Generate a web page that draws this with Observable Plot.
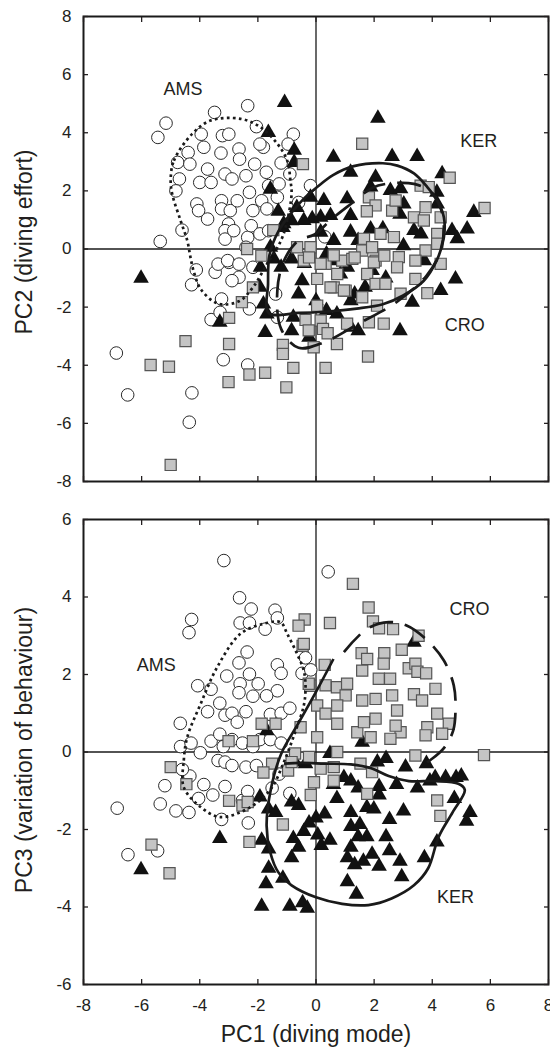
<!DOCTYPE html>
<html><head><meta charset="utf-8">
<script src="https://cdn.jsdelivr.net/npm/d3@7"></script>
<script src="https://cdn.jsdelivr.net/npm/@observablehq/plot@0.6"></script>
<style>
html,body{margin:0;padding:0;background:#fff;}
#chart svg{display:block;}
</style></head><body><div id="chart"></div>
<script>
const xTicks = [-8,-6,-4,-2,0,2,4,6,8];
const yTicksTop = [-8,-6,-4,-2,0,2,4,6,8];
const yTicksBottom = [-6,-4,-2,0,2,4,6];
const xTitle = "PC1 (diving mode)";
const yTitleTop = "PC2 (diving effort)";
const yTitleBottom = "PC3 (variation of behaviour)";

// ---- Top panel: PC1 vs PC2 ----
const amsTop = [[-6.87,-3.58],[-6.48,-5.02],[-4.36,-5.96],[-4.27,-4.95],[-3.19,-3.81],[-2.35,-3.99],[-3.61,-2.43],[-3.3,-2.18],[-3.25,-1.72],[-4.28,-1.23],[-4.12,-0.72],[-3.47,-0.8],[-3.0,-0.46],[-5.36,0.26],[-4.61,0.65],[-5.44,3.84],[-5.16,4.33],[-3.49,4.7],[-2.35,4.93],[-2.05,4.21],[-0.78,3.95],[-0.96,3.61],[-1.2,2.96],[-0.9,2.58],[-0.19,2.18],[-0.6,1.6],[-4.7,2.41],[-4.82,2.0],[-4.76,2.98],[-4.4,3.32],[-4.34,2.92],[-4.0,2.29],[-3.95,3.95],[-3.86,3.5],[-3.73,2.75],[-3.61,2.29],[-4.1,1.55],[-4.04,1.32],[-3.73,1.03],[-3.27,3.3],[-3.22,3.9],[-3.0,3.95],[-3.13,2.58],[-2.89,2.41],[-2.65,3.44],[-2.63,3.09],[-2.41,2.52],[-2.29,1.95],[-2.11,2.92],[-1.81,3.5],[-1.93,3.61],[-1.71,2.64],[-1.63,2.18],[-1.33,1.78],[-1.27,2.24],[-1.87,1.66],[-1.69,1.38],[-2.17,1.32],[-3.25,1.66],[-3.25,1.38],[-2.95,1.32],[-2.71,1.66],[-3.01,0.86],[-3.13,0.63],[-3.13,0.34],[-2.83,0.63],[-2.35,0.4],[-2.23,0.8],[-1.93,0.52],[-1.63,0.63],[-2.41,0.06],[-3.37,-0.52],[-3.04,-0.4],[-2.65,-0.52],[-2.65,-0.97],[-2.89,-1.09],[-2.17,-0.63],[-2.29,-2.06],[-1.33,-2.35],[-1.39,-1.55],[0.3,0.42]];
const kerTop = [[-1.08,5.04],[2.13,4.5],[-1.64,4.01],[-0.75,3.4],[-0.75,2.98],[-6.02,-1.01],[-3.31,-2.52],[0.6,3.16],[1.19,2.64],[2.62,3.18],[3.48,3.18],[2.05,2.47],[1.88,2.13],[2.56,2.01],[2.91,2.07],[4.34,2.59],[4.16,1.95],[3.02,1.55],[4.17,1.55],[5.43,1.26],[5.2,0.69],[4.68,0.64],[4.86,0.35],[4.8,-1.03],[4.29,-1.43],[3.31,-1.83],[2.89,-2.81],[3.73,-0.4],[3.37,0.64],[2.89,1.2],[-1.57,2.06],[-0.19,1.78],[0.27,1.67],[1.07,1.73],[-0.13,1.04],[0.16,1.09],[0.5,1.15],[1.19,1.15],[-0.66,1.43],[-1.14,0.74],[-0.84,0.97],[0.16,0.58],[0.61,0.29],[1.19,0.58],[1.88,0.69],[1.45,0.29],[-1.57,0.06],[-1.45,-0.34],[-1.2,-0.63],[-0.84,-0.34],[-1.91,-0.63],[-1.93,-1.32],[-1.81,-1.89],[-1.69,-2.24],[-0.48,-1.09],[-0.6,-1.55],[-0.78,-2.35],[-0.84,-2.81],[-1.75,-2.87],[0,-1.78],[0.36,-2.12],[0.72,-2.24],[1.2,-1.78],[1.33,-1.55],[1.2,-2.69],[1.45,-2.81],[1.69,-1.32],[1.93,-0.74],[0.84,-0.86],[0.6,-0.4],[0.36,-0.17],[1.08,-0.63],[3.01,0.11],[3.61,0.52],[-0.24,-3.04],[2.4,-1.0],[-0.42,0.98],[2.3,0.7],[-1.3,1.3],[-0.4,-0.5],[-1.11,0.87]];
const croTop = [[-5.0,-7.43],[-5.69,-3.99],[-5.06,-4.05],[-4.49,-3.17],[-3.01,-4.58],[-2.99,-3.27],[-2.99,-2.37],[-2.55,-1.83],[-2.29,-4.32],[-1.75,-4.26],[-1.02,-4.76],[-0.78,-4.09],[0.33,-4.09],[1.79,-3.7],[1.59,3.62],[-0.45,2.92],[4.6,2.45],[5.8,1.41],[-1.47,0.65],[-2.37,0.0],[-1.88,-0.23],[-2.17,-1.32],[-1.14,-3.3],[-1.14,-3.61],[-0.08,-3.38],[0.72,-3.27],[1.07,-2.57],[1.82,-2.52],[2.33,-2.57],[-0.36,-2.44],[-0.25,-2.8],[0.16,-2.46],[0.24,-2.75],[0.04,-1.95],[0.4,-2.9],[1.82,1.78],[2.05,1.5],[1.75,1.3],[2.62,1.32],[2.74,1.67],[3.6,2.18],[3.88,2.13],[3.37,1.09],[3.77,1.44],[3.71,0.98],[4.29,1.09],[4.17,0.52],[4.17,0.18],[3.77,-0.05],[4.29,-0.51],[3.42,-0.4],[3.83,-1.52],[3.42,-1.03],[2.22,0.52],[2.68,0.41],[1.65,0.35],[1.59,-0.05],[2.05,-0.4],[2.85,-0.28],[2.79,-0.63],[1.76,-0.86],[2.05,-1.2],[2.39,-1.2],[2.91,-1.54],[0.9,-0.4],[1.25,-0.34],[0.73,-0.86],[0.61,-1.32],[1.02,-1.43],[0.33,-0.51],[-0.19,0.06],[-0.42,-0.4],[0.04,-1.03],[0.16,-0.51],[2.1,-1.95],[1.59,-1.66],[-0.65,0.06],[-0.24,-0.29],[1.33,-0.29],[1.99,-0.46],[2.35,-0.23],[1.93,0.06],[0.61,-0.22],[0.5,-1.32],[0.96,-1.43]];
const amsContourTop = [[-5.0,2.4],[-4.89,3.04],[-4.26,3.96],[-3.63,4.42],[-2.6,4.48],[-1.91,4.19],[-1.33,3.62],[-0.99,3.04],[-0.88,2.36],[-0.84,1.9],[-0.99,0.98],[-1.2,0.3],[-1.69,-0.52],[-2.17,-1.32],[-2.65,-1.8],[-3.37,-1.88],[-3.95,-1.4],[-4.2,-0.8],[-4.32,-0.28],[-4.43,0.29],[-4.66,0.98],[-4.95,1.9]];
const kerContourTop = [[-1.63,-2.2],[-1.65,-1.2],[-1.6,-0.2],[-1.3,0.6],[-0.8,1.3],[-0.4,1.75],[0.0,2.1],[0.6,2.55],[1.3,2.85],[2.3,2.95],[2.8,2.87],[3.37,2.6],[3.83,2.13],[4.17,1.67],[4.4,1.09],[4.4,0.4],[4.15,-0.4],[3.7,-1.1],[3.0,-1.6],[2.3,-1.9],[1.4,-2.05],[0.4,-2.15],[-0.6,-2.2]];
const croContourTop = [[-1.2,-2.75],[-0.6,-3.4],[0.3,-3.2],[1.5,-2.55],[2.77,-1.83],[3.8,-0.92],[4.25,-0.15],[4.4,0.74],[4.25,1.5],[3.9,2.0],[3.37,2.24],[2.41,2.24],[1.93,2.1],[1.2,1.55],[0.54,1.03],[-0.05,0.5],[-0.6,0.3],[-1.1,-0.4],[-1.33,-1.43]];
const labelsTop = [{t:"AMS",x:-4.58,y:5.5},{t:"KER",x:5.6,y:3.72},{t:"CRO",x:5.12,y:-2.64}];

// ---- Bottom panel: PC1 vs PC3 ----
const amsBottom = [[-3.17,4.94],[0.42,4.65],[-2.63,3.98],[-2.23,3.69],[-1.41,3.66],[-1.33,3.46],[-2.61,3.33],[-2.29,3.33],[-1.75,3.17],[-4.28,3.42],[-4.37,3.08],[-2.37,2.58],[-2.65,2.3],[-3.07,1.96],[-2.29,2.01],[-1.99,1.76],[-2.61,1.76],[-1.33,2.25],[-1.2,2.03],[-1.33,1.58],[-2.17,1.44],[-1.7,1.45],[-2.65,1.53],[-4.07,1.71],[-3.61,1.62],[-3.31,1.26],[-3.73,1.04],[-3.13,0.95],[-2.89,1.0],[-2.41,1.04],[-2.71,0.77],[-1.57,0.97],[-1.2,1.0],[-0.9,1.13],[-0.36,2.43],[-0.48,2.03],[-0.18,2.12],[-4.67,0.74],[-4.66,0.14],[-4.3,0.23],[-3.98,-0.02],[-3.61,0.28],[-3.31,0.46],[-3.19,0.14],[-2.89,0.32],[-2.53,0.23],[-2.17,0.14],[-1.93,0.32],[-1.57,0.32],[-1.2,0.23],[-3.37,-0.22],[-3.13,-0.26],[-2.89,-0.35],[-2.41,-0.39],[-2.05,-0.35],[-4.34,-0.62],[-4.6,-0.45],[-5.2,-0.87],[-5.36,-1.34],[-4.82,-1.52],[-4.37,-1.56],[-4.04,-1.2],[-3.55,-1.11],[-3.86,-0.84],[-3.13,-0.89],[-3.25,-1.74],[-2.33,-1.83],[-2.53,-1.25],[-2.35,-1.02],[-1.51,-0.93],[-1.27,-0.57],[-0.9,-1.07],[-6.84,-1.45],[-6.47,-2.65],[-5.45,-2.55]];
const kerBottom = [[-6.02,-3.04],[-3.31,-2.23],[-1.87,-2.28],[-1.63,-2.5],[-1.63,-3.0],[-1.72,-3.4],[-1.87,-3.98],[-1.14,-3.26],[-0.9,-3.98],[-0.46,-3.89],[-0.3,-4.03],[-1.69,0.55],[-1.93,-1.16],[-1.63,-1.47],[-1.39,-1.56],[-0.84,-1.29],[-0.6,-1.38],[-0.78,-2.23],[-0.6,-2.46],[-0.84,-2.73],[-0.42,-2.05],[0,-1.7],[0.06,-2.14],[0.18,-2.41],[0.48,-2.28],[0.72,-1.2],[1.2,-0.75],[1.2,-1.56],[1.2,-1.92],[1.45,-2.19],[1.2,-2.46],[1.08,-2.73],[1.33,-2.91],[1.63,-2.82],[1.93,-2.64],[1.75,-2.19],[1.51,-1.87],[1.75,-1.43],[1.99,-1.47],[2.17,-0.89],[2.17,-1.11],[2.77,-0.84],[3.49,-0.93],[2.41,-2.19],[2.53,-2.55],[2.17,-2.95],[2.89,-2.82],[2.95,-3.22],[3.01,-1.52],[2.53,-1.74],[3.73,-2.73],[4.16,-2.32],[4.76,-1.2],[5.3,-1.56],[5.18,-1.79],[4.1,-0.66],[4.46,-0.66],[4.82,-0.66],[5.0,-0.62],[3.92,-0.75],[3.8,-0.3],[3.08,-0.39],[2.41,-0.17],[2.11,-0.26],[3.37,2.83],[1.08,-3.35],[1.39,-3.67],[-0.36,-0.3],[0.48,-0.04],[-0.72,-0.26],[0.96,-0.66],[1.45,-0.93],[0.6,-0.84],[0.3,-1.6],[-0.24,-1.83],[1.59,0.25]];
const croBottom = [[1.27,4.34],[1.81,3.73],[0.48,3.33],[-0.39,3.42],[-0.6,3.26],[-0.46,2.74],[1.96,3.37],[2.17,3.19],[2.65,3.17],[3.53,3.0],[2.95,2.64],[1.57,2.55],[2.35,2.55],[1.76,2.4],[2.33,2.28],[1.59,2.1],[0.3,2.25],[-0.2,1.71],[0.33,1.72],[0.72,1.67],[1.07,1.76],[1.02,1.46],[2.16,1.89],[2.55,1.89],[3.19,2.16],[3.42,2.28],[3.49,2.07],[3.79,2.03],[4.11,1.63],[3.37,1.49],[3.65,1.33],[4.17,0.99],[4.57,0.73],[4.34,0.47],[3.83,0.64],[3.77,0.43],[2.79,1.07],[2.91,0.51],[2.56,0.34],[1.88,0.38],[1.42,0.51],[1.65,0.77],[2.05,0.86],[2.74,0.68],[2.05,1.37],[2.62,1.46],[1.59,1.33],[0.73,1.2],[0.04,1.2],[0.33,0.99],[0.73,0.73],[-0.53,0.64],[0.04,0.38],[0.73,0.0],[-0.24,-0.13],[0.16,-0.43],[0.61,-0.39],[-0.07,-0.78],[0.61,-0.74],[-0.72,-0.04],[3.42,-0.09],[1.53,-0.3],[1.93,-0.52],[1.76,-1.08],[4.17,-1.25],[4.28,-1.65],[5.78,-0.08],[-0.18,-1.11],[-0.96,-0.48],[-1.51,-0.3],[-1.81,-0.53],[-1.87,0.73],[-1.39,0.73],[-2.17,0.28],[-3.01,0.28],[-2.99,-1.26],[-2.53,-1.38],[-2.35,-1.29],[-1.14,-1.87],[-2.29,-2.32],[-5.0,-0.39],[-4.46,-0.83],[-5.66,-2.39],[-5.04,-3.13],[-0.84,-0.26],[-0.42,2.79],[-0.25,1.76]];
const amsContourBottom = [[-4.55,-0.91],[-4.55,-0.22],[-4.43,0.38],[-3.97,1.24],[-3.4,2.19],[-2.6,3.05],[-1.8,3.31],[-1.22,3.35],[-0.99,3.05],[-0.65,2.53],[-0.42,2.1],[-0.36,1.67],[-0.42,1.2],[-0.7,0.55],[-1.1,-0.25],[-1.55,-0.95],[-2.25,-1.42],[-3.29,-1.68],[-3.97,-1.42]];
const kerContourBottom = [[0.6,2.4],[0.0,1.55],[-0.6,0.75],[-1.2,-0.05],[-1.55,-0.95],[-1.7,-1.9],[-1.57,-2.6],[-1.3,-3.1],[-0.84,-3.44],[0,-3.75],[0.9,-3.92],[1.8,-3.95],[2.6,-3.78],[3.37,-3.44],[3.86,-3.0],[4.22,-2.19],[4.7,-1.56],[5.12,-0.98],[4.9,-0.82],[4.1,-0.75],[3.2,-0.75],[2.5,-0.62],[1.9,-0.42],[1.2,-0.32],[0.3,-0.3],[-0.5,-0.28],[-1.1,-0.3]];
const croContourBottom = [[0.96,2.58],[1.76,3.18],[2.5,3.35],[3.1,3.27],[3.83,2.88],[4.4,2.36],[4.74,1.72],[4.8,1.1],[4.72,0.55],[4.4,0.1],[3.95,-0.2],[3.5,-0.42]];
const labelsBottom = [{t:"AMS",x:-5.5,y:2.25},{t:"CRO",x:5.28,y:3.69},{t:"KER",x:4.8,y:-3.76}];

const FONT = "'Liberation Sans', Arial, Helvetica, sans-serif";
const INK = "#1a1a1a";
const TXT = "#231f20";
const fmt = d => String(d);
const none = () => "";

function contour(data, closed, dash) {
  return Plot.line(data, {x: d => d[0], y: d => d[1], curve: closed ? "catmull-rom-closed" : "catmull-rom",
    stroke: INK, strokeWidth: 2.7, strokeDasharray: dash, strokeLinecap: "butt", strokeLinejoin: "round"});
}

function panel(o) {
  return Plot.plot({
    width: 550, height: o.height,
    marginLeft: 83, marginRight: 2, marginTop: o.mt, marginBottom: o.mb,
    x: {domain: [-8, 8]},
    y: {domain: o.yDomain},
    style: {fontFamily: FONT, color: TXT, background: "white", overflow: "visible"},
    marks: [
      Plot.ruleX([0], {stroke: INK, strokeWidth: 1.3}),
      Plot.ruleY([0], {stroke: INK, strokeWidth: 1.3}),
      Plot.dot(o.ams, {x: d => d[0], y: d => d[1], symbol: "circle", r: 6.3, fill: "white", stroke: "#2a2a2a", strokeWidth: 1}),
      Plot.dot(o.ker, {x: d => d[0], y: d => d[1], symbol: "triangle", r: 5.8, fill: "#111", stroke: "none"}),
      Plot.dot(o.cro, {x: d => d[0], y: d => d[1], symbol: "square", r: 6.3, fill: "#c4c4c4", stroke: "#555", strokeWidth: 1.2}),
      contour(o.amsC, true, "2.7 3.3"),
      contour(o.kerC, o.kerClosed, null),
      contour(o.croC, o.croClosed, "24 12"),
      Plot.text(o.labels, {x: "x", y: "y", text: "t", fontSize: 18, fill: TXT}),
      Plot.frame({stroke: INK, strokeWidth: 2}),
      Plot.axisX({anchor: "bottom", ticks: xTicks, tickSize: -5, tickPadding: 19, tickFormat: o.showX ? fmt : none, fontSize: 17, label: null, strokeWidth: 1.3}),
      Plot.axisX({anchor: "top", ticks: xTicks, tickSize: -5, tickFormat: none, label: null, strokeWidth: 1.3}),
      Plot.axisY({anchor: "left", ticks: o.yTicks, tickSize: -5, tickPadding: 17, tickFormat: fmt, fontSize: 17, label: null, strokeWidth: 1.3}),
      Plot.axisY({anchor: "right", ticks: o.yTicks, tickSize: -5, tickFormat: none, label: null, strokeWidth: 1.3}),
      Plot.text([o.yTitle], {frameAnchor: "left", textAnchor: "middle", lineAnchor: "middle", dx: -59, dy: o.titleDy, rotate: -90, fontSize: 23, fill: TXT}),
      o.xTitle ? Plot.text([o.xTitle], {frameAnchor: "bottom", textAnchor: "middle", lineAnchor: "middle", dy: 50, fontSize: 23, fill: TXT}) : null
    ]
  });
}

const chart = document.getElementById("chart");
chart.append(panel({height: 500, mt: 16, mb: 19, yDomain: [-8, 8], yTicks: yTicksTop, yTitle: yTitleTop, titleDy: -7,
  ams: amsTop, ker: kerTop, cro: croTop, amsC: amsContourTop, kerC: kerContourTop, croC: croContourTop,
  kerClosed: true, croClosed: true, labels: labelsTop, showX: false}));
chart.append(panel({height: 549, mt: 19, mb: 65, yDomain: [-6, 6], yTicks: yTicksBottom, yTitle: yTitleBottom, titleDy: -2,
  ams: amsBottom, ker: kerBottom, cro: croBottom, amsC: amsContourBottom, kerC: kerContourBottom, croC: croContourBottom,
  kerClosed: false, croClosed: false, labels: labelsBottom, showX: true, xTitle: xTitle}));
</script></body></html>
